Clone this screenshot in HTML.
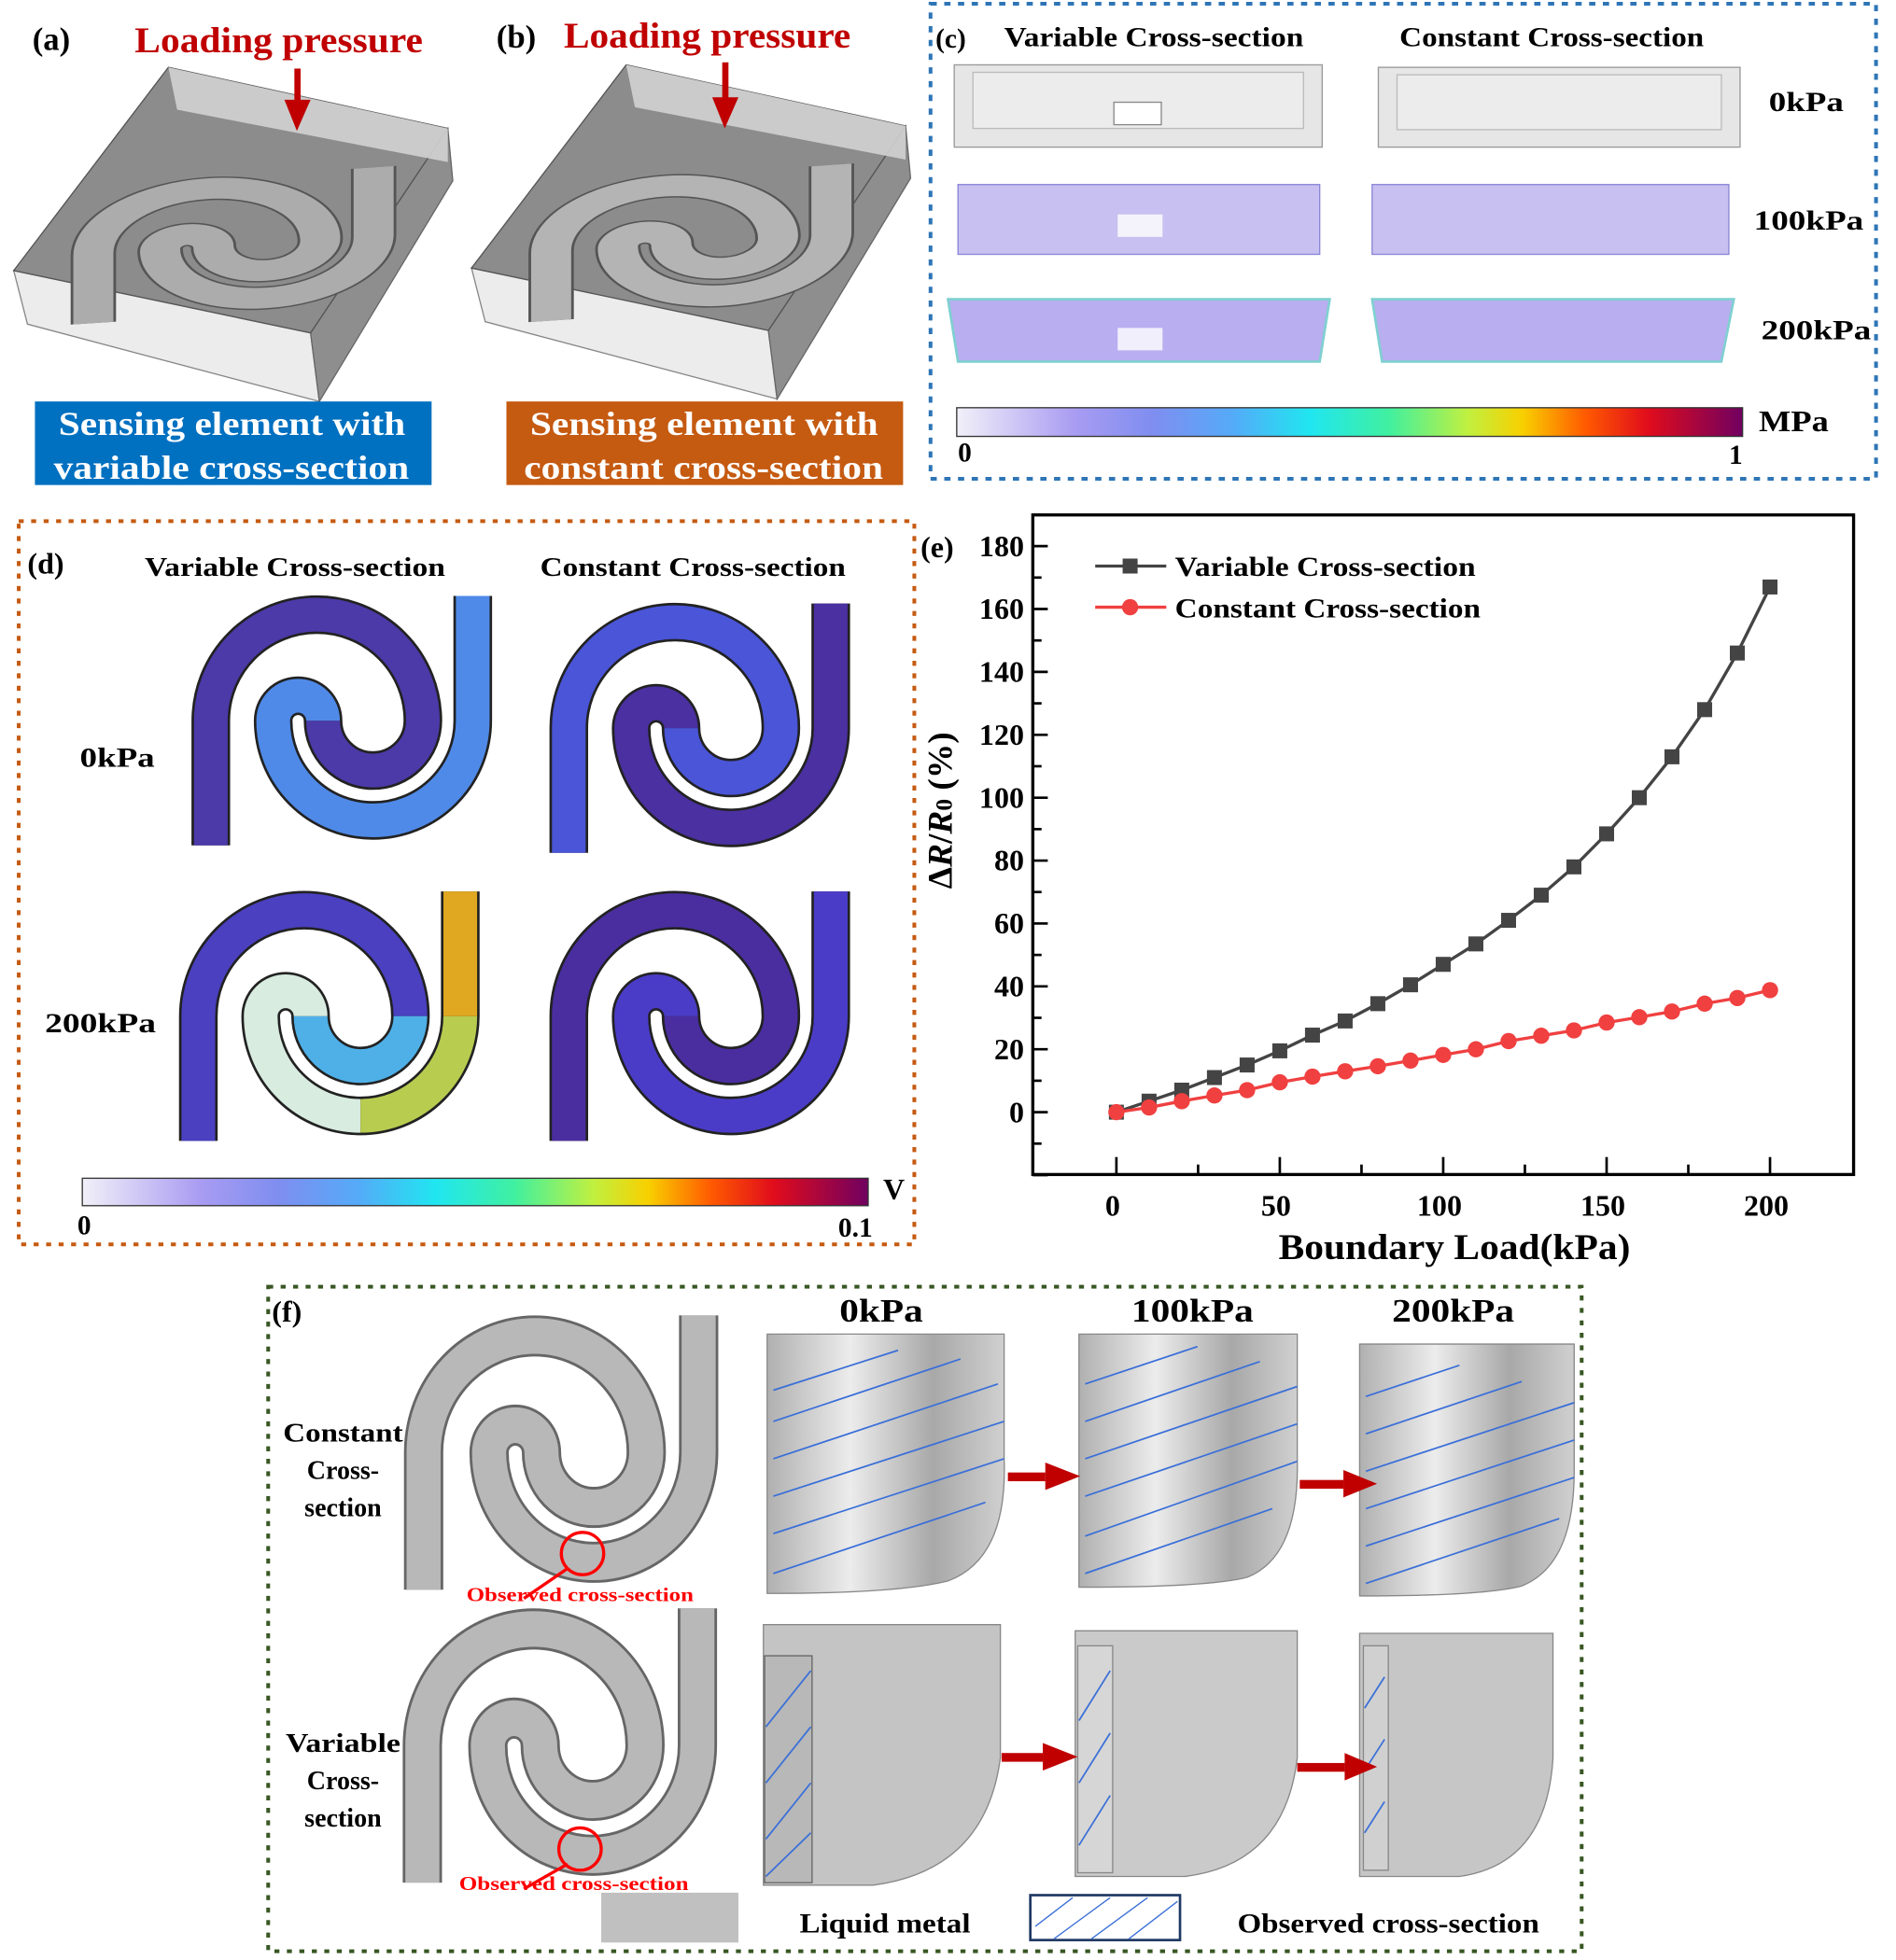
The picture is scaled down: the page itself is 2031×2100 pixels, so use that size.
<!DOCTYPE html>
<html><head><meta charset="utf-8"><style>
html,body{margin:0;padding:0;background:#fff}
svg{display:block}
text{font-family:"Liberation Serif",serif;font-weight:bold}
</style></head><body>
<svg id="fig" width="2031" height="2100" viewBox="0 0 1520 1572" preserveAspectRatio="none" xmlns="http://www.w3.org/2000/svg">
<defs>
<linearGradient id="cmap" x1="0" x2="1" y1="0" y2="0">
<stop offset="0" stop-color="#f2f0f8"/><stop offset="0.15" stop-color="#a99cf2"/><stop offset="0.25" stop-color="#7f8ef0"/><stop offset="0.35" stop-color="#55aaf8"/><stop offset="0.45" stop-color="#20e6f0"/><stop offset="0.55" stop-color="#40f0a0"/><stop offset="0.65" stop-color="#c0f040"/><stop offset="0.72" stop-color="#f8d000"/><stop offset="0.8" stop-color="#ff5a00"/><stop offset="0.88" stop-color="#e00c1c"/><stop offset="1" stop-color="#700060"/>
</linearGradient>
<linearGradient id="lm" x1="0" x2="1" y1="0" y2="0"><stop offset="0" stop-color="#b0b0b0"/><stop offset="0.35" stop-color="#ececec"/><stop offset="0.7" stop-color="#a8a8a8"/><stop offset="1" stop-color="#d0d0d0"/></linearGradient>
</defs>

<!-- (a) -->
<g>
<text x="26" y="40" font-size="26">(a)</text>
<text x="108" y="42" font-size="29" fill="#c00000" textLength="231" lengthAdjust="spacingAndGlyphs">Loading pressure</text>
<polygon points="11,217 249,267 256,322 22,260" fill="#ececec" stroke="#888"/>
<polygon points="249,267 359,103 363,145 256,322" fill="#8e8e8e" stroke="#666"/>
<polygon points="11,217 135,54 359,103 249,267" fill="#8c8c8c" stroke="#555"/>
<polygon points="135,54 359,103 359,130 142,88" fill="#d2d2d2" opacity="0.9"/>
<g transform="matrix(1.07,-0.071,0,0.55,62,150)">
<path d="M12 200 V100 A85 85 0 0 1 182 100 A40 40 0 0 1 102 100 A20 20 0 0 0 62 100 A80 80 0 0 0 222 100 V0" fill="none" stroke="#555" stroke-width="34"/>
<path d="M12 200 V100 A85 85 0 0 1 182 100 A40 40 0 0 1 102 100 A20 20 0 0 0 62 100 A80 80 0 0 0 222 100 V0" fill="none" stroke="#acacac" stroke-width="30"/>
</g>
<rect x="236" y="55" width="5" height="40" fill="#c00000"/><polygon points="228,80 249,80 238,105" fill="#c00000"/>
<rect x="28" y="322" width="318" height="67" fill="#0070c0"/>
<text x="47" y="349" font-size="27" fill="#fff" textLength="278" lengthAdjust="spacingAndGlyphs">Sensing element with</text>
<text x="43" y="384" font-size="27" fill="#fff" textLength="285" lengthAdjust="spacingAndGlyphs">variable cross-section</text>
</g>
<!-- (b) -->
<g>
<text x="398" y="38" font-size="26">(b)</text>
<text x="452" y="38" font-size="29" fill="#c00000" textLength="230" lengthAdjust="spacingAndGlyphs">Loading pressure</text>
<g transform="translate(367,-2)">
<polygon points="11,217 249,267 256,322 22,260" fill="#ececec" stroke="#888"/>
<polygon points="249,267 359,103 363,145 256,322" fill="#8e8e8e" stroke="#666"/>
<polygon points="11,217 135,54 359,103 249,267" fill="#8c8c8c" stroke="#555"/>
<polygon points="135,54 359,103 359,130 142,88" fill="#d2d2d2" opacity="0.9"/>
<g transform="matrix(1.07,-0.071,0,0.55,62,150)">
<path d="M12 200 V100 A85 85 0 0 1 182 100 A40 40 0 0 1 102 100 A20 20 0 0 0 62 100 A80 80 0 0 0 222 100 V0" fill="none" stroke="#555" stroke-width="34"/>
<path d="M12 200 V100 A85 85 0 0 1 182 100 A40 40 0 0 1 102 100 A20 20 0 0 0 62 100 A80 80 0 0 0 222 100 V0" fill="none" stroke="#b4b4b4" stroke-width="30"/>
</g>
</g>
<rect x="579" y="50" width="5" height="40" fill="#c00000"/><polygon points="571,78 592,78 581,103" fill="#c00000"/>
<rect x="406" y="322" width="318" height="67" fill="#c55a11"/>
<text x="425" y="349" font-size="27" fill="#fff" textLength="279" lengthAdjust="spacingAndGlyphs">Sensing element with</text>
<text x="420" y="384" font-size="27" fill="#fff" textLength="288" lengthAdjust="spacingAndGlyphs">constant cross-section</text>
</g>

<!-- (c) -->
<g>
<rect x="746" y="3" width="758" height="381" fill="none" stroke="#2e75b6" stroke-width="3" stroke-dasharray="5,6"/>
<text x="750" y="38" font-size="22">(c)</text>
<text x="805" y="37" font-size="22" textLength="240" lengthAdjust="spacingAndGlyphs">Variable Cross-section</text>
<text x="1122" y="37" font-size="22" textLength="244" lengthAdjust="spacingAndGlyphs">Constant Cross-section</text>
<rect x="765" y="52" width="295" height="66" fill="#e6e6e6" stroke="#999"/>
<rect x="780" y="58" width="265" height="45" fill="#ececec" stroke="#bbb"/>
<rect x="1105" y="54" width="290" height="64" fill="#e6e6e6" stroke="#999"/>
<rect x="1120" y="60" width="260" height="44" fill="#ececec" stroke="#bbb"/>
<rect x="893" y="82" width="38" height="18" fill="#fff" stroke="#888"/>
<rect x="768" y="148" width="290" height="56" fill="#c8c0f0" stroke="#8a86d8"/>
<rect x="1100" y="148" width="286" height="56" fill="#c8c0f0" stroke="#8a86d8"/>
<rect x="896" y="172" width="36" height="18" fill="#fff" opacity="0.8"/>
<polygon points="760,240 1066,240 1058,290 768,290" fill="#b8aef0" stroke="#7fd0d0" stroke-width="2"/>
<polygon points="1100,240 1390,240 1380,290 1108,290" fill="#b8aef0" stroke="#7fd0d0" stroke-width="2"/>
<rect x="896" y="263" width="36" height="18" fill="#fff" opacity="0.8"/>
<text x="1418" y="89" font-size="22" textLength="60" lengthAdjust="spacingAndGlyphs">0kPa</text>
<text x="1406" y="184" font-size="22" textLength="88" lengthAdjust="spacingAndGlyphs">100kPa</text>
<text x="1412" y="272" font-size="22" textLength="88" lengthAdjust="spacingAndGlyphs">200kPa</text>
<rect x="767" y="327" width="630" height="23" fill="url(#cmap)" stroke="#333"/>
<text x="768" y="370" font-size="22">0</text>
<text x="1386" y="372" font-size="22">1</text>
<text x="1410" y="346" font-size="24" textLength="56" lengthAdjust="spacingAndGlyphs">MPa</text>
</g>

<!-- (d) -->
<g>
<rect x="15" y="418" width="718" height="580" fill="none" stroke="#c55a11" stroke-width="3" stroke-dasharray="4,6"/>
<text x="22" y="460" font-size="24">(d)</text>
<text x="116" y="462" font-size="21" textLength="241" lengthAdjust="spacingAndGlyphs">Variable Cross-section</text>
<text x="433" y="462" font-size="21" textLength="245" lengthAdjust="spacingAndGlyphs">Constant Cross-section</text>
<text x="64" y="615" font-size="22" textLength="60" lengthAdjust="spacingAndGlyphs">0kPa</text>
<text x="36" y="828" font-size="22" textLength="89" lengthAdjust="spacingAndGlyphs">200kPa</text>
<g transform="translate(157,478)">
<path d="M12 200 V100 A85 85 0 0 1 182 100 A40 40 0 0 1 102 100 A20 20 0 0 0 62 100 A80 80 0 0 0 222 100 V0" fill="none" stroke="#222" stroke-width="31"/>
<path d="M12 200 V100 A85 85 0 0 1 182 100 A40 40 0 0 1 102 100" fill="none" stroke="#4b3aa8" stroke-width="27"/>
<path d="M102 100 A20 20 0 0 0 62 100 A80 80 0 0 0 222 100 V0" fill="none" stroke="#4f8ae8" stroke-width="27"/>
</g>
<g transform="translate(444,484)">
<path d="M12 200 V100 A85 85 0 0 1 182 100 A40 40 0 0 1 102 100 A20 20 0 0 0 62 100 A80 80 0 0 0 222 100 V0" fill="none" stroke="#222" stroke-width="31"/>
<path d="M12 200 V100 A85 85 0 0 1 182 100 A40 40 0 0 1 102 100" fill="none" stroke="#4a55d8" stroke-width="27"/>
<path d="M102 100 A20 20 0 0 0 62 100 A80 80 0 0 0 222 100 V0" fill="none" stroke="#4a30a0" stroke-width="27"/>
</g>
<g transform="translate(147,715)">
<path d="M12 200 V100 A85 85 0 0 1 182 100 A40 40 0 0 1 102 100 A20 20 0 0 0 62 100 A80 80 0 0 0 222 100 V0" fill="none" stroke="#222" stroke-width="31"/>
<path d="M12 200 V100 A85 85 0 0 1 182 100" fill="none" stroke="#4a40c0" stroke-width="27"/>
<path d="M182 100 A40 40 0 0 1 102 100" fill="none" stroke="#4fb0e8" stroke-width="27"/>
<path d="M102 100 A20 20 0 0 0 62 100 A80 80 0 0 0 142 180" fill="none" stroke="#d8ece0" stroke-width="27"/>
<path d="M142 180 A80 80 0 0 0 222 100" fill="none" stroke="#b8cc50" stroke-width="27"/>
<path d="M222 100 V0" fill="none" stroke="#e0a820" stroke-width="27"/>
</g>
<g transform="translate(444,715)">
<path d="M12 200 V100 A85 85 0 0 1 182 100 A40 40 0 0 1 102 100 A20 20 0 0 0 62 100 A80 80 0 0 0 222 100 V0" fill="none" stroke="#222" stroke-width="31"/>
<path d="M12 200 V100 A85 85 0 0 1 182 100 A40 40 0 0 1 102 100" fill="none" stroke="#4a2ea0" stroke-width="27"/>
<path d="M102 100 A20 20 0 0 0 62 100 A80 80 0 0 0 222 100 V0" fill="none" stroke="#4b3cc8" stroke-width="27"/>
</g>
<rect x="66" y="945" width="630" height="22" fill="url(#cmap)" stroke="#333"/>
<text x="62" y="990" font-size="22">0</text>
<text x="672" y="992" font-size="22">0.1</text>
<text x="708" y="962" font-size="24">V</text>
</g>

<!-- (e) chart -->
<g id="chart">
<text x="738" y="447" font-size="24">(e)</text>
<rect x="828" y="413" width="658" height="529" fill="none" stroke="#000" stroke-width="2.5"/>
<g id="yticks"></g><g id="xticks"></g><g id="series"></g>
<text transform="translate(763,650) rotate(-90)" font-size="28" text-anchor="middle">Δ<tspan font-style="italic">R</tspan>/<tspan font-style="italic">R</tspan><tspan font-size="19">0</tspan> (%)</text>
<text x="1025" y="1010" font-size="29" textLength="282" lengthAdjust="spacingAndGlyphs">Boundary Load(kPa)</text>
<g>
<line x1="878" y1="454" x2="935" y2="454" stroke="#444" stroke-width="2.5"/><rect x="900" y="448" width="12" height="12" fill="#444"/>
<text x="942" y="462" font-size="22" textLength="241" lengthAdjust="spacingAndGlyphs">Variable Cross-section</text>
<line x1="878" y1="487" x2="935" y2="487" stroke="#f04040" stroke-width="2.5"/><circle cx="906" cy="487" r="6.5" fill="#f04040"/>
<text x="942" y="495" font-size="22" textLength="245" lengthAdjust="spacingAndGlyphs">Constant Cross-section</text>
</g>
</g>

<!-- (f) -->
<g>
<rect x="215" y="1032" width="1053" height="533" fill="none" stroke="#385723" stroke-width="3" stroke-dasharray="4,6"/>
<text x="218" y="1060" font-size="24">(f)</text>
<text x="673" y="1060" font-size="26" textLength="67" lengthAdjust="spacingAndGlyphs">0kPa</text>
<text x="907" y="1060" font-size="26" textLength="98" lengthAdjust="spacingAndGlyphs">100kPa</text>
<text x="1116" y="1060" font-size="26" textLength="98" lengthAdjust="spacingAndGlyphs">200kPa</text>
<text x="227" y="1156" font-size="21" textLength="96" lengthAdjust="spacingAndGlyphs">Constant</text>
<text x="275" y="1186" font-size="21" text-anchor="middle">Cross-</text>
<text x="275" y="1216" font-size="21" text-anchor="middle">section</text>
<text x="229" y="1405" font-size="21" textLength="92" lengthAdjust="spacingAndGlyphs">Variable</text>
<text x="275" y="1435" font-size="21" text-anchor="middle">Cross-</text>
<text x="275" y="1465" font-size="21" text-anchor="middle">section</text>
<g transform="translate(327,1055) scale(1.05,1.1)">
<path d="M12 200 V100 A85 85 0 0 1 182 100 A40 40 0 0 1 102 100 A20 20 0 0 0 62 100 A80 80 0 0 0 222 100 V0" fill="none" stroke="#666" stroke-width="30"/>
<path d="M12 200 V100 A85 85 0 0 1 182 100 A40 40 0 0 1 102 100 A20 20 0 0 0 62 100 A80 80 0 0 0 222 100 V0" fill="none" stroke="#b8b8b8" stroke-width="26"/>
</g>
<g transform="translate(326,1290) scale(1.05,1.1)">
<path d="M12 200 V100 A85 85 0 0 1 182 100 A40 40 0 0 1 102 100 A20 20 0 0 0 62 100 A80 80 0 0 0 222 100 V0" fill="none" stroke="#666" stroke-width="30"/>
<path d="M12 200 V100 A85 85 0 0 1 182 100 A40 40 0 0 1 102 100 A20 20 0 0 0 62 100 A80 80 0 0 0 222 100 V0" fill="none" stroke="#b8b8b8" stroke-width="26"/>
</g>
<circle cx="467" cy="1246" r="17" fill="none" stroke="#f00" stroke-width="2.5"/><line x1="455" y1="1258" x2="420" y2="1282" stroke="#f00" stroke-width="2.5"/>
<text x="374" y="1284" font-size="16" fill="#f00" textLength="182" lengthAdjust="spacingAndGlyphs">Observed cross-section</text>
<circle cx="465" cy="1483" r="17" fill="none" stroke="#f00" stroke-width="2.5"/><line x1="455" y1="1495" x2="420" y2="1515" stroke="#f00" stroke-width="2.5"/>
<text x="368" y="1516" font-size="16" fill="#f00" textLength="184" lengthAdjust="spacingAndGlyphs">Observed cross-section</text>
<g>
<path d="M615 1070 H805 V1170 Q808 1250 760 1268 Q720 1278 615 1278 Z" fill="url(#lm)" stroke="#888"/>
<path d="M865 1070 H1040 V1170 Q1042 1248 1000 1265 Q970 1273 865 1273 Z" fill="url(#lm)" stroke="#888"/>
<path d="M1090 1078 H1262 V1180 Q1262 1255 1220 1272 Q1190 1280 1090 1280 Z" fill="url(#lm)" stroke="#888"/>
<g stroke="#3a6fd8" stroke-width="1.3">
<line x1="620" y1="1115" x2="720" y2="1083"/><line x1="620" y1="1140" x2="770" y2="1090"/><line x1="620" y1="1170" x2="800" y2="1110"/><line x1="620" y1="1200" x2="805" y2="1140"/><line x1="620" y1="1230" x2="805" y2="1170"/><line x1="620" y1="1262" x2="790" y2="1205"/>
<line x1="870" y1="1110" x2="960" y2="1080"/><line x1="870" y1="1140" x2="1010" y2="1092"/><line x1="870" y1="1170" x2="1040" y2="1112"/><line x1="870" y1="1200" x2="1040" y2="1142"/><line x1="870" y1="1232" x2="1040" y2="1172"/><line x1="870" y1="1262" x2="1020" y2="1210"/>
<line x1="1095" y1="1120" x2="1170" y2="1095"/><line x1="1095" y1="1150" x2="1220" y2="1108"/><line x1="1095" y1="1180" x2="1262" y2="1125"/><line x1="1095" y1="1210" x2="1262" y2="1155"/><line x1="1095" y1="1240" x2="1262" y2="1185"/><line x1="1095" y1="1270" x2="1250" y2="1218"/>
</g>
</g>
<g>
<path d="M612 1303 H802 V1410 Q790 1500 700 1512 H612 Z" fill="#c4c4c4" stroke="#888"/>
<path d="M862 1308 H1040 V1410 Q1030 1495 950 1505 H862 Z" fill="#cacaca" stroke="#888"/>
<path d="M1090 1310 H1245 V1410 Q1240 1495 1170 1505 H1090 Z" fill="#c6c6c6" stroke="#888"/>
<rect x="613" y="1328" width="38" height="182" fill="#b8b8b8" stroke="#666"/>
<rect x="864" y="1320" width="28" height="182" fill="#d6d6d6" stroke="#888"/>
<rect x="1093" y="1320" width="20" height="180" fill="#d0d0d0" stroke="#888"/>
<g stroke="#3a6fd8" stroke-width="1.3">
<line x1="614" y1="1385" x2="650" y2="1340"/><line x1="614" y1="1430" x2="650" y2="1385"/><line x1="614" y1="1475" x2="650" y2="1430"/><line x1="614" y1="1505" x2="650" y2="1470"/>
<line x1="865" y1="1380" x2="890" y2="1340"/><line x1="865" y1="1430" x2="890" y2="1390"/><line x1="865" y1="1480" x2="890" y2="1440"/>
<line x1="1094" y1="1370" x2="1110" y2="1345"/><line x1="1094" y1="1420" x2="1110" y2="1395"/><line x1="1094" y1="1470" x2="1110" y2="1445"/>
</g>
</g>
<g fill="#c00000">
<rect x="808" y="1181" width="30" height="7"/><polygon points="838,1173 866,1184 838,1195"/>
<rect x="1042" y="1187" width="35" height="7"/><polygon points="1077,1179 1104,1190 1077,1201"/>
<rect x="803" y="1406" width="33" height="7"/><polygon points="836,1398 864,1409 836,1420"/>
<rect x="1040" y="1414" width="38" height="7"/><polygon points="1078,1406 1104,1417 1078,1428"/>
</g>
<rect x="482" y="1518" width="110" height="40" fill="#c0c0c0"/>
<text x="641" y="1550" font-size="22" textLength="137" lengthAdjust="spacingAndGlyphs">Liquid metal</text>
<rect x="826" y="1520" width="120" height="36" fill="#fff" stroke="#1f3864" stroke-width="2"/>
<g stroke="#3a6fd8" stroke-width="1"><line x1="830" y1="1545" x2="860" y2="1522"/><line x1="845" y1="1555" x2="890" y2="1522"/><line x1="875" y1="1555" x2="920" y2="1522"/><line x1="905" y1="1555" x2="944" y2="1525"/></g>
<text x="992" y="1550" font-size="22" textLength="242" lengthAdjust="spacingAndGlyphs">Observed cross-section</text>
</g>
</svg>
<script>
const loads = [0,10,20,30,40,50,60,70,80,90,100,110,120,130,140,150,160,170,180,190,200];
const variableVals = [0,3.5,7,11,15,19.5,24.5,29,34.5,40.5,47,53.5,61,69,78,88.5,100,113,128,146,167];
const constantVals = [0,1.5,3.5,5.3,7,9.5,11.3,13,14.6,16.4,18.2,20,22.6,24.3,26,28.5,30.2,32,34.5,36.3,38.8];
const yTickLabels = [0,20,40,60,80,100,120,140,160,180];
const xTickLabels = [0,50,100,150,200];

const NS = 'http://www.w3.org/2000/svg';
function xs(v){ return 895 + (v/200)*(1419-895); }
function ys(v){ return 892 - (v/180)*(892-438); }
function mk(tag, attrs, parent){ const e=document.createElementNS(NS,tag); for(const k in attrs) e.setAttribute(k,attrs[k]); parent.appendChild(e); return e; }

const yg=document.getElementById('yticks');
for(let v=-20; v<=190; v+=10){
  const t=mk('line',{x1:828,x2:(v%20===0)?840:835,y1:ys(v),y2:ys(v),stroke:'#000','stroke-width':2},yg);
  
  
}
yTickLabels.forEach(v=>{
  const t=mk('text',{x:821,y:ys(v)+8,'font-size':24,'text-anchor':'end'},yg);
  t.textContent=v;
  
  
});
const xg=document.getElementById('xticks');
for(let v=0; v<=200; v+=25){
  const t=mk('line',{x1:xs(v),x2:xs(v),y1:942,y2:(v%50===0)?928:934,stroke:'#000','stroke-width':2},xg);
  
  
}
xTickLabels.forEach(v=>{
  const t=mk('text',{x:xs(v)-3,y:975,'font-size':24,'text-anchor':'middle'},xg);
  t.textContent=v;
  
  
});
const sg=document.getElementById('series');
function pts(vals){ return vals.map((v,i)=>xs(loads[i])+','+ys(v)).join(' '); }
const lv=mk('polyline',{points:pts(variableVals),fill:'none',stroke:'#444','stroke-width':2.5},sg);


const lc=mk('polyline',{points:pts(constantVals),fill:'none',stroke:'#f04040','stroke-width':2.5},sg);


variableVals.forEach((v,i)=>{
  const r=mk('rect',{x:xs(loads[i])-6,y:ys(v)-6,width:12,height:12,fill:'#444'},sg);
  
  
});
constantVals.forEach((v,i)=>{
  const c=mk('circle',{cx:xs(loads[i]),cy:ys(v),r:6.5,fill:'#f04040'},sg);
  
  
});
</script>
</body></html>
